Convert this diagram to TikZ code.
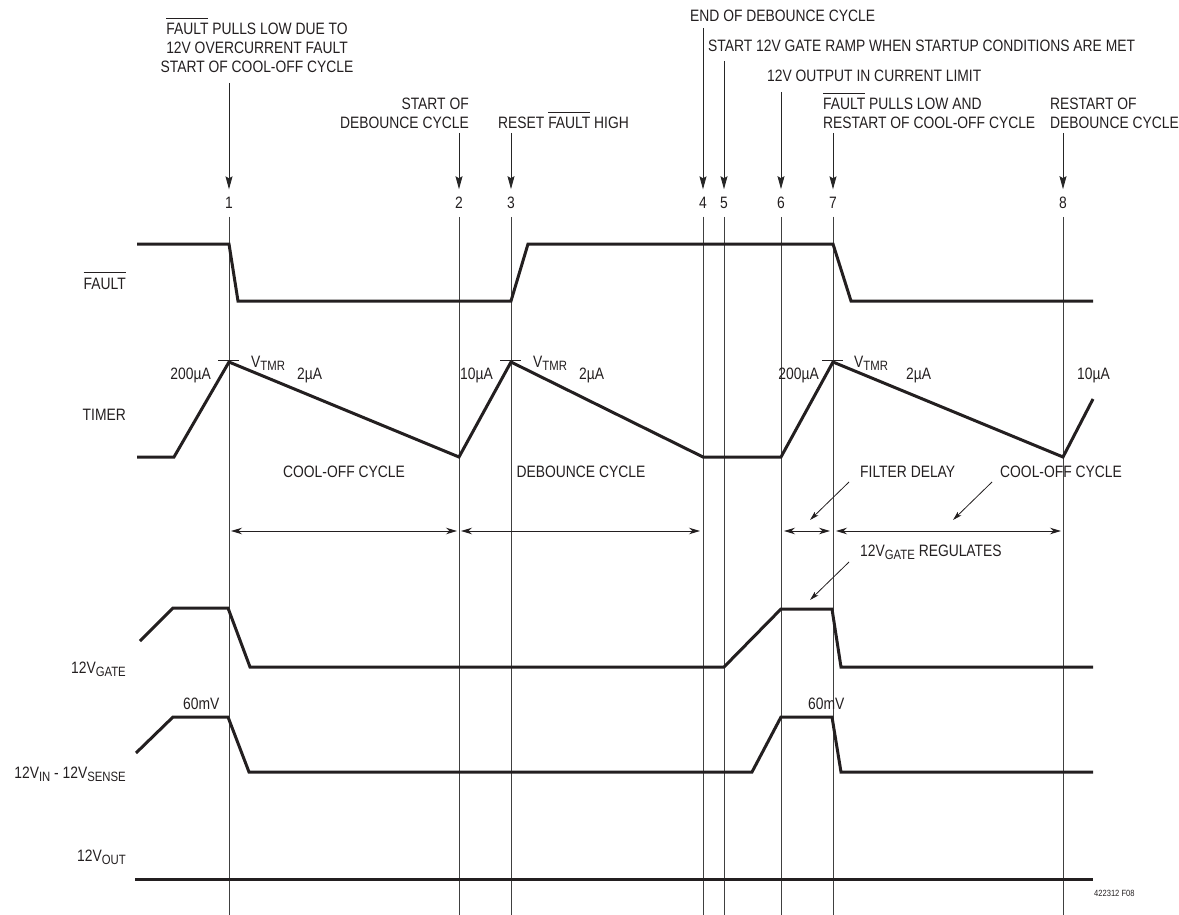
\documentclass[tikz,border=0pt]{standalone}
\usepackage{fontspec}
\setmainfont{Liberation Sans}[FakeStretch=0.84]
\usetikzlibrary{arrows.meta}
\definecolor{ink}{RGB}{35,31,32}
\newcommand\ovl[1]{\vbox{\hrule height 0.9pt\kern 4.5pt\hbox{#1}}}
\newcommand\subs[1]{\raisebox{-3.5pt}{\fontsize{13.5}{14}\selectfont #1}}
\begin{document}
\begin{tikzpicture}[x=1pt,y=-1pt,
  every node/.style={inner sep=0pt, font=\fontsize{16.5}{19}\selectfont, text=ink},
  sig/.style={line width=3pt, draw=ink},
  vline/.style={line width=0.9pt, draw=black!75},
  callout/.style={line width=0.9pt, draw=black!85, -{Stealth[length=13pt,width=7pt,inset=2pt]}},
  span/.style={line width=0.9pt, draw=ink, {Stealth[length=11pt,width=6.5pt,inset=3.5pt]}-{Stealth[length=11pt,width=6.5pt,inset=3.5pt]}},
  pointer/.style={line width=0.8pt, draw=ink, -{Stealth[length=9pt,width=5pt,inset=2pt]}},
  num/.style={outer sep=8pt},
  tickmark/.style={line width=0.9pt, draw=ink},
  small/.style={font=\fontsize{9}{10}\selectfont},
]
\useasboundingbox (0,0) rectangle (1179,915);

% event numbers, vertical lines
\foreach \i/\x in {1/229,2/459,3/511,4/703,5/724,6/781,7/833,8/1063}{
  \node[num] (n\i) at (\x,203) {\i};
  \coordinate (b\i) at (\x,915);
  \draw[vline] (n\i.south) -- (b\i);
}
% callout tops
\coordinate (t1) at (229,83);
\coordinate (t2) at (459,133);
\coordinate (t3) at (511,133);
\coordinate (t4) at (703,28);
\coordinate (t5) at (724,61);
\coordinate (t6) at (781,92);
\coordinate (t7) at (833,133);
\coordinate (t8) at (1063,133);
\foreach \i in {1,...,8}{ \draw[callout] (t\i) -- (n\i.north); }

% annotations
\node[anchor=base] (a1a) at (257,35) {\ovl{FAULT} PULLS LOW DUE TO};
\node[anchor=base] (a1b) at (257,54) {12V OVERCURRENT FAULT};
\node[anchor=base] (a1c) at (257,73) {START OF COOL-OFF CYCLE};
\node[anchor=base east] (a2a) at (469,110) {START OF};
\node[anchor=base east] (a2b) at (469,129) {DEBOUNCE CYCLE};
\node[anchor=base west] (a3) at (498,129) {RESET \ovl{FAULT} HIGH};
\node[anchor=base west] (a4) at (690,22) {END OF DEBOUNCE CYCLE};
\node[anchor=base west] (a5) at (708,52) {START 12V GATE RAMP WHEN STARTUP CONDITIONS ARE MET};
\node[anchor=base west] (a6) at (767,82) {12V OUTPUT IN CURRENT LIMIT};
\node[anchor=base west] (a7a) at (823,110) {\ovl{FAULT} PULLS LOW AND};
\node[anchor=base west] (a7b) at (823,129) {RESTART OF COOL-OFF CYCLE};
\node[anchor=base west] (a8a) at (1050,110) {RESTART OF};
\node[anchor=base west] (a8b) at (1050,129) {DEBOUNCE CYCLE};

% signal names
\node[anchor=base east] (lf) at (126,289) {\ovl{FAULT}};
\node[anchor=base east] (lt) at (126,420) {TIMER};
\node[anchor=base east] (lg) at (126,673) {12V\subs{GATE}};
\node[anchor=base east] (ls) at (126,778) {12V\subs{IN} - 12V\subs{SENSE}};
\node[anchor=base east] (lo) at (126,861) {12V\subs{OUT}};

% waveforms
\draw[sig] (137,244)--(229,244)--(238,301)--(511,301)--(528,244)--(833,244)--(851,301)--(1093,301);
\draw[sig] (137,457)--(174,457)--(229,362)--(459,457)--(511,362)--(703,457)--(781,457)--(833,362)--(1063,457)--(1093,399);
\draw[sig] (140,641)--(173,608)--(228,608)--(250,667)--(724,667)--(781,609)--(832,609)--(841,667)--(1093,667);
\draw[sig] (136,753)--(173,717)--(228,717)--(249,772)--(752,772)--(781,717)--(832,717)--(841,772)--(1093,772);
\draw[sig] (135,879)--(1093,879);

% VTMR ticks
\foreach \x in {229,511,833}{ \draw[tickmark] (\x-11,360) -- (\x+10,360); }

% timer labels
\node[anchor=base east] (c1) at (211,379) {200µA};
\node[anchor=base west] (v1) at (251,367) {V\subs{TMR}};
\node[anchor=base west] (d1) at (297,379) {2µA};
\node[anchor=base west] (c2) at (460,379) {10µA};
\node[anchor=base west] (v2) at (533,367) {V\subs{TMR}};
\node[anchor=base west] (d2) at (579,379) {2µA};
\node[anchor=base east] (c3) at (819,379) {200µA};
\node[anchor=base west] (v3) at (854,367) {V\subs{TMR}};
\node[anchor=base west] (d3) at (906,379) {2µA};
\node[anchor=base west] (c4) at (1077,379) {10µA};

% 60mV
\node[anchor=base west] (m1) at (183,709) {60mV};
\node[anchor=base west] (m2) at (808,709) {60mV};

% cycle spans
\node[anchor=base] (cc1) at (344,477) {COOL-OFF CYCLE};
\node[anchor=base] (dc1) at (581,477) {DEBOUNCE CYCLE};
\node[anchor=base west] (fd) at (860,477) {FILTER DELAY};
\node[anchor=base west] (cc2) at (1000,477) {COOL-OFF CYCLE};
\node[anchor=base west] (gr) at (860,556) {12V\subs{GATE} REGULATES};
\coordinate (s1a) at (231,531); \coordinate (s1b) at (457,531);
\coordinate (s2a) at (461,531); \coordinate (s2b) at (700,531);
\coordinate (s3a) at (784,531); \coordinate (s3b) at (830,531);
\coordinate (s4a) at (836,531); \coordinate (s4b) at (1061,531);
\draw[span] (s1a) -- (s1b);
\draw[span] (s2a) -- (s2b);
\draw[span] (s3a) -- (s3b);
\draw[span] (s4a) -- (s4b);
\coordinate (p1) at (810,520); \coordinate (p2) at (953,520); \coordinate (p3) at (810,600);
\draw[pointer] (849,482) -- (p1);
\draw[pointer] (992,482) -- (p2);
\draw[pointer] (849,562) -- (p3);

\node[small, anchor=base west] (fig) at (1094,896) {422312 F08};
\end{tikzpicture}
\end{document}
